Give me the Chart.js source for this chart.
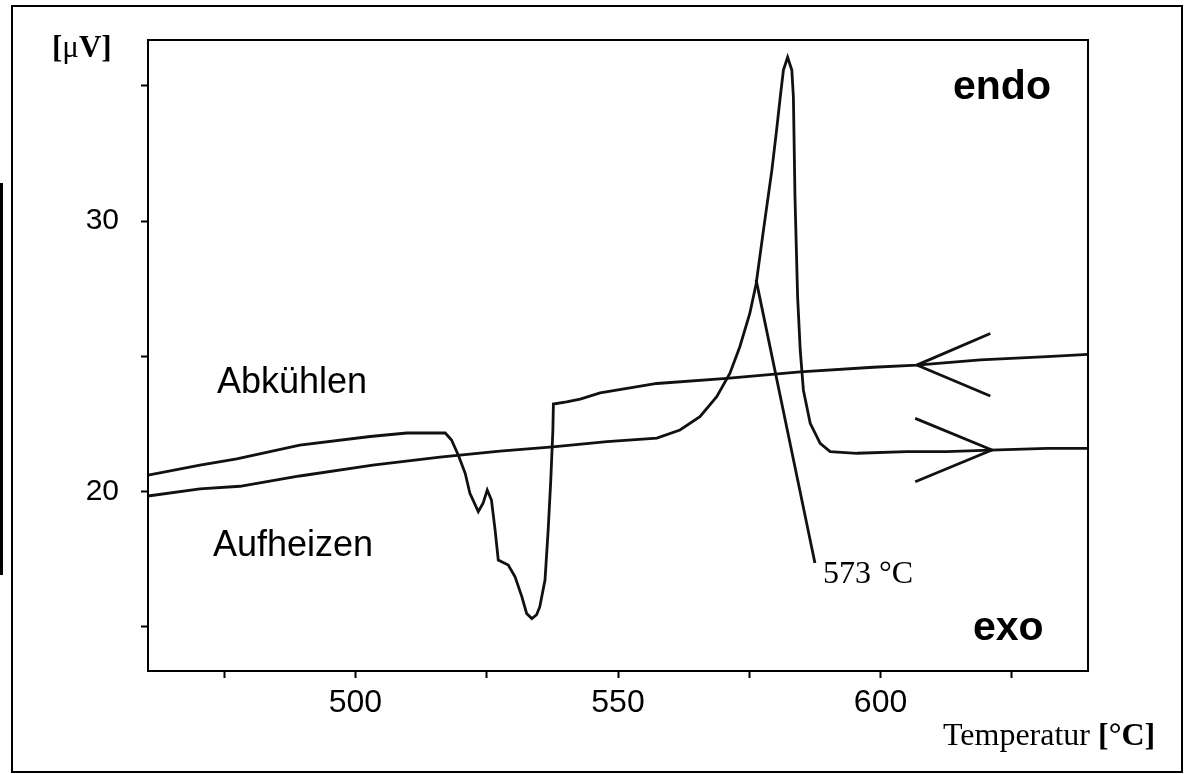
<!DOCTYPE html>
<html>
<head>
<meta charset="utf-8">
<script src="https://cdn.jsdelivr.net/npm/chart.js@4.4.0/dist/chart.umd.min.js"></script>
<style>
  body { margin: 0; background: #fff; }
  canvas { display: block; }
</style>
</head>
<body>
<canvas id="mycanvas" width="1184" height="774"></canvas>
<script>
// Aufheizen (heating), temperature in degC / signal in microvolt
var heatT = [460.5, 470.4, 478.0, 489.4, 503.3, 516.1, 527.5, 537.6, 547.9, 557.4, 561.8, 565.6,
             568.8, 571.3, 573.2, 575.1, 576.3, 577.7, 579.3, 580.2, 580.9, 581.5, 582.3, 583.1,
             583.4, 583.7, 584.2, 584.7, 585.3, 586.6, 588.5, 590.4, 595.5, 605.0, 612.6, 620.9,
             631.7, 639.5];
var heatV = [19.84, 20.10, 20.20, 20.58, 20.98, 21.28, 21.50, 21.66, 21.85, 21.98, 22.28, 22.77,
             23.51, 24.37, 25.36, 26.59, 27.68, 29.67, 31.89, 33.37, 34.60, 35.59, 36.06, 35.59,
             34.60, 30.91, 27.21, 25.24, 23.76, 22.53, 21.79, 21.48, 21.42, 21.48, 21.48, 21.54,
             21.60, 21.60];

// Abkuehlen (cooling)
var coolT = [460.5, 470.4, 477.4, 489.4, 502.8, 509.8, 517.1, 518.3, 519.6, 520.9, 521.8, 523.4,
             524.3, 525.1, 525.9, 526.6, 527.2, 529.1, 530.4, 531.7, 532.6, 533.6, 534.5, 535.1,
             536.1, 536.7, 537.2, 537.6, 537.7, 540.2, 542.8, 546.6, 557.4, 570.7, 584.7, 598.6,
             606.9, 619.0, 631.7, 639.5];
var coolV = [20.61, 20.98, 21.21, 21.72, 22.04, 22.17, 22.17, 21.91, 21.35, 20.68, 19.94, 19.26,
             19.57, 20.06, 19.69, 18.58, 17.47, 17.29, 16.85, 16.11, 15.50, 15.31, 15.45, 15.74,
             16.73, 18.58, 20.43, 22.28, 23.24, 23.32, 23.42, 23.65, 24.00, 24.19, 24.43, 24.60,
             24.68, 24.87, 24.99, 25.08];

// 573 degC marker line and the two direction arrows
var markT = [576.3, 587.5];
var markV = [27.83, 17.36];
var arrowCoolT = [620.9, 606.9, 620.9];
var arrowCoolV = [25.85, 24.68, 23.54];
var arrowHeatT = [606.6, 621.2, 606.6];
var arrowHeatV = [22.71, 21.54, 20.37];

var xLabels = [500, 550, 600];
var yLabels = [20, 30];

function pts(xs, ys){
    var out = [];
    for (var i in xs){
        out.push({x: xs[i], y: ys[i]});
    }
    return out;
}

function line(xs, ys){
    return {
        data: pts(xs, ys),
        showLine: true,
        borderColor: "#111",
        borderWidth: 2.8,
        pointRadius: 0,
        tension: 0,
        fill: false
    };
}

var decor = {
    id: "decor",
    beforeDraw: function(chart){
        var ctx = chart.ctx;
        ctx.save();
        ctx.fillStyle = "#fff";
        ctx.fillRect(0, 0, chart.width, chart.height);
        ctx.restore();
    },
    afterDraw: function(chart){
        var ctx = chart.ctx, a = chart.chartArea;
        ctx.save();
        ctx.strokeStyle = "#000";
        ctx.lineWidth = 2;
        ctx.strokeRect(a.left, a.top, a.right - a.left, a.bottom - a.top);
        ctx.strokeRect(12, 6, 1170, 766);
        ctx.fillStyle = "#000";
        ctx.fillRect(0, 183, 3, 392);

        ctx.textBaseline = "alphabetic";
        ctx.textAlign = "left";
        // unit label of y axis
        var x = 52;
        ctx.font = "bold 31px 'Liberation Serif'";
        ctx.fillText("[", x, 57); x += ctx.measureText("[").width;
        ctx.font = "31px 'Liberation Serif'";
        ctx.fillText("\u03bc", x, 57); x += ctx.measureText("\u03bc").width;
        ctx.font = "bold 31px 'Liberation Serif'";
        ctx.fillText("V]", x, 57);

        ctx.font = "36px 'Liberation Sans'";
        ctx.fillText("Abk\u00fchlen", 217, 393);
        ctx.fillText("Aufheizen", 213, 556);

        ctx.font = "bold 41px 'Liberation Sans'";
        ctx.fillText("endo", 953, 99);
        ctx.fillText("exo", 973, 640);

        ctx.font = "32px 'Liberation Serif'";
        ctx.fillText("573 \u00b0C", 823, 583);

        x = 943;
        ctx.fillText("Temperatur ", x, 745);
        x += ctx.measureText("Temperatur ").width;
        ctx.font = "bold 32px 'Liberation Serif'";
        ctx.fillText("[\u00b0C]", x, 745);
        ctx.restore();
    }
};

var ctx = document.getElementById("mycanvas");

var dtaChart = new Chart(ctx, {
    type: "scatter",
    data: {
        datasets: [
            line(heatT, heatV),
            line(coolT, coolV),
            line(markT, markV),
            line(arrowCoolT, arrowCoolV),
            line(arrowHeatT, arrowHeatV)
        ]
    },
    plugins: [decor],
    options: {
        responsive: false,
        animation: false,
        layout: { padding: { left: 0, top: 40, right: 96, bottom: 0 } },
        plugins: { legend: { display: false }, tooltip: { enabled: false } },
        scales: {
            x: {
                type: "linear",
                min: 460.5,
                max: 639.5,
                afterFit: function(scale){ scale.height = 103; },
                border: { display: true, color: "#000", width: 2 },
                grid: { drawOnChartArea: false, tickLength: 7, tickWidth: 2, tickColor: "#000" },
                ticks: {
                    stepSize: 25,
                    includeBounds: false,
                    autoSkip: false,
                    maxRotation: 0,
                    padding: 6,
                    color: "#000",
                    font: { family: "'Liberation Sans', Arial", size: 32 },
                    callback: function(v){ return xLabels.indexOf(v) >= 0 ? String(v) : ""; }
                }
            },
            y: {
                min: 13.37,
                max: 36.70,
                afterFit: function(scale){ scale.width = 148; },
                border: { display: true, color: "#000", width: 2 },
                grid: { drawOnChartArea: false, tickLength: 7, tickWidth: 2, tickColor: "#000" },
                ticks: {
                    stepSize: 5,
                    includeBounds: false,
                    autoSkip: false,
                    padding: 22,
                    color: "#000",
                    font: { family: "'Liberation Sans', Arial", size: 30 },
                    callback: function(v){ return yLabels.indexOf(v) >= 0 ? String(v) : ""; }
                }
            }
        }
    }
});
</script>
</body>
</html>
